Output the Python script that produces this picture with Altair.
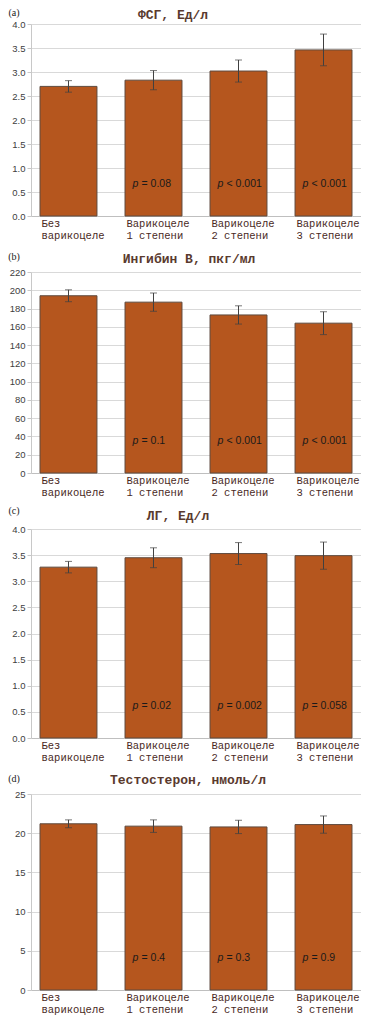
import altair as alt
import pandas as pd

# ---- data ----
categories = ["Без|варикоцеле", "Варикоцеле|1 степени", "Варикоцеле|2 степени", "Варикоцеле|3 степени"]

fsg_mean = [2.70, 2.83, 3.02, 3.46]
fsg_err = [0.12, 0.20, 0.23, 0.33]
fsg_p = ["", "= 0.08", "< 0.001", "< 0.001"]
fsg_ticks = [0.0, 0.5, 1.0, 1.5, 2.0, 2.5, 3.0, 3.5, 4.0]

inh_mean = [194, 187, 173, 164]
inh_err = [6.5, 10, 10, 12.5]
inh_p = ["", "= 0.1", "< 0.001", "< 0.001"]
inh_ticks = [0, 20, 40, 60, 80, 100, 120, 140, 160, 180, 200, 220]

lh_mean = [3.27, 3.45, 3.53, 3.49]
lh_err = [0.11, 0.19, 0.21, 0.26]
lh_p = ["", "= 0.02", "= 0.002", "= 0.058"]
lh_ticks = [0.0, 0.5, 1.0, 1.5, 2.0, 2.5, 3.0, 3.5, 4.0]

t_mean = [21.2, 20.9, 20.8, 21.1]
t_err = [0.5, 0.8, 0.85, 1.1]
t_p = ["", "= 0.4", "= 0.3", "= 0.9"]
t_ticks = [0, 5, 10, 15, 20, 25]

titles = ["ФСГ, Ед/л", "Ингибин В, пкг/мл", "ЛГ, Ед/л", "Тестостерон, нмоль/л"]
tags = ["(a)", "(b)", "(c)", "(d)"]

BAR = "#b5561e"
W = 330


def panel(means, errs, pvals, ticks, fmt, title, title_dx, tag, h, title_y, tag_y):
    df = pd.DataFrame({
        "cat": categories,
        "mean": means,
        "lo": [m - e for m, e in zip(means, errs)],
        "hi": [m + e for m, e in zip(means, errs)],
        "pv": pvals,
    })
    xaxis = alt.Axis(title=None, labelAngle=0,
                     labelExpr="split(datum.label, '|')",
                     labelAlign="left", labelOffset=-27,
                     labelBaseline="top",
                     labelFont="Liberation Mono", labelFontSize=10.5,
                     labelColor="#4a2a1e", labelLineHeight=12.5,
                     labelPadding=2, labelOverlap=False, labelFlush=False,
                     ticks=False, domainColor="#bfbfbf")
    xscale = alt.Scale(paddingInner=0.33, paddingOuter=0.106)
    yaxis = alt.Axis(title=None, values=ticks, format=fmt,
                     labelFont="Liberation Sans", labelFontSize=9.5,
                     labelColor="#404040", labelPadding=2, labelOverlap=False,
                     gridColor="#d9d9d9", domainColor="#c8c8c8",
                     tickColor="#c8c8c8", tickSize=4)
    yscale = alt.Scale(domain=[ticks[0], ticks[-1]], nice=False)

    def X():
        return alt.X("cat:N", sort=categories, scale=xscale, axis=xaxis)

    def Y(field):
        return alt.Y(field, scale=yscale, axis=yaxis)

    base = alt.Chart(df)
    bars = base.mark_bar(color=BAR, stroke="#5e4a3e", strokeWidth=1).encode(
        x=X(), y=Y("mean:Q"))
    rule = base.mark_rule(color="#404040", strokeWidth=1).encode(
        x=X(), y=Y("lo:Q"), y2="hi:Q")
    cap_hi = base.mark_tick(color="#404040", size=7, thickness=1).encode(
        x=X(), y=Y("hi:Q"))
    cap_lo = base.mark_tick(color="#404040", size=7, thickness=1).encode(
        x=X(), y=Y("lo:Q"))
    ptxt = base.transform_filter(alt.datum.pv != "")
    p_it = ptxt.mark_text(text="p", fontStyle="italic", font="Liberation Sans",
                          fontSize=10.5, color="#1a1a1a", align="left",
                          baseline="middle", dx=-21).encode(
        x=X(), y=alt.value(h - 32))
    p_rest = ptxt.mark_text(font="Liberation Sans", fontSize=10.5, color="#1a1a1a",
                            align="left", baseline="middle", dx=-12).encode(
        x=X(), y=alt.value(h - 32), text="pv:N")
    tag_df = pd.DataFrame({"t": [tag]})
    tag_mark = alt.Chart(tag_df).mark_text(font="Liberation Serif", fontSize=10,
                                           color="#222222", align="center",
                                           baseline="middle").encode(
        x=alt.value(-17), y=alt.value(tag_y), text="t:N")
    title_df = pd.DataFrame({"t": [title]})
    title_mark = alt.Chart(title_df).mark_text(font="Liberation Mono", fontWeight="bold",
                                               fontSize=13, color="#5a3a2e",
                                               align="center", baseline="alphabetic").encode(
        x=alt.value(W / 2 + title_dx), y=alt.value(title_y), text="t:N")
    return alt.layer(bars, rule, cap_hi, cap_lo, p_it, p_rest, tag_mark, title_mark).properties(
        width=W, height=h)


pa = panel(fsg_mean, fsg_err, fsg_p, fsg_ticks, ".1f", titles[0], -23, tags[0], 192, -5, -11)
pb = panel(inh_mean, inh_err, inh_p, inh_ticks, "d", titles[1], -7, tags[1], 201, -9, -15)
pc = panel(lh_mean, lh_err, lh_p, lh_ticks, ".1f", titles[2], -18, tags[2], 209, -9, -18)
pd_ = panel(t_mean, t_err, t_p, t_ticks, "d", titles[3], -8, tags[3], 196, -10, -15)

chart = alt.vconcat(pa, pb, pc, pd_, spacing=56, bounds="flush").properties(
    padding={"left": 0, "top": 0, "right": 0, "bottom": 0}
).configure_view(stroke=None)

chart.save("out.html", embed_options={"renderer": "svg", "actions": False})
